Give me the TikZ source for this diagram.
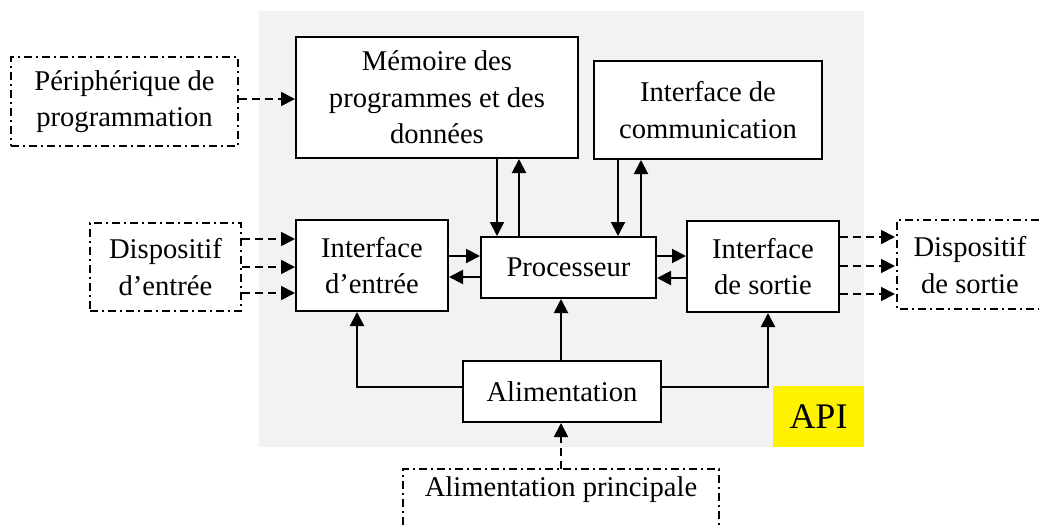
\documentclass[tikz,border=0pt]{standalone}
\usepackage{fontspec}
\setmainfont{Liberation Serif}
\usetikzlibrary{arrows.meta}
\begin{document}
\begin{tikzpicture}[x=0.5pt,y=-0.5pt,
  font=\fontsize{14.3pt}{18.3pt}\selectfont,
  box/.style={draw=black,line width=1pt,fill=white,inner sep=0pt,align=center},
  dbox/.style={draw=black,line width=0.8pt,dash pattern=on 4pt off 2pt on 1pt off 2pt,inner sep=0pt,align=center},
  dline/.style={line width=0.8pt,dash pattern=on 4pt off 2pt on 1pt off 2pt},
  arr/.style={line width=1pt,-{Triangle[length=7pt,width=7pt]}},
  darr/.style={line width=0.9pt,dash pattern=on 4pt off 2.5pt,-{Triangle[length=7pt,width=7pt]}},
  conn/.style={line width=1pt}]
\useasboundingbox (0,0) rectangle (1039,525);
\fill[fill={rgb,255:red,242;green,242;blue,242}] (259,11) rectangle (864,447);
% main boxes
\node[box,minimum width=141pt,minimum height=60.5pt] (mem) at (437,97.5) {Mémoire des\\programmes et des\\données};
\node[box,minimum width=114pt,minimum height=49pt] (com) at (708,110) {Interface de\\communication};
\node[box,minimum width=76pt,minimum height=45.5pt] (ie) at (372,265.5) {Interface\\d’entrée};
\node[box,minimum width=87.5pt,minimum height=30.5pt] (proc) at (568.5,267.5) {Processeur};
\node[box,minimum width=76pt,minimum height=45.5pt] (is) at (763,266.5) {Interface\\de sortie};
\node[box,minimum width=99pt,minimum height=30.5pt] (alim) at (562,391.5) {Alimentation};
\node[fill=yellow,inner sep=0pt,minimum width=45.5pt,minimum height=30.5pt,font=\fontsize{18pt}{20pt}\selectfont] (api) at (818.5,416.5) {API};
% external dashed boxes
\node[dbox,minimum width=113.5pt,minimum height=44.5pt] (per) at (124.5,101.5) {Périphérique de\\programmation};
\node[dbox,minimum width=75.5pt,minimum height=44pt] (de) at (165.5,267) {Dispositif\\d’entrée};
\node[align=center,inner sep=0pt] (ds) at (970,265) {Dispositif\\de sortie};
\node[inner sep=0pt] (ap) at (561,490) {Alimentation principale};
% partial borders
\coordinate (ds1) at (1039,220); \coordinate (ds2) at (897,220);
\coordinate (ds3) at (897,309); \coordinate (ds4) at (1039,309);
\draw[dline] (ds1) -- (ds2) -- (ds3) -- (ds4);
\coordinate (ap1) at (403,525); \coordinate (ap2) at (403,469);
\coordinate (ap3) at (719,469); \coordinate (ap4) at (719,525);
\draw[dline] (ap1) -- (ap2) -- (ap3) -- (ap4);
% x / y helpers
\coordinate (x497) at (497,0); \coordinate (x519) at (519,0);
\coordinate (x618) at (618,0); \coordinate (x641) at (641,0);
\coordinate (x561) at (561,0); \coordinate (x357) at (357,0);
\coordinate (x768) at (768,0); \coordinate (x895) at (895,0);
\coordinate (y99) at (0,99);
\coordinate (y239) at (0,239); \coordinate (y267) at (0,267); \coordinate (y293) at (0,293);
\coordinate (y237) at (0,237); \coordinate (y266) at (0,266); \coordinate (y294) at (0,294);
\coordinate (y256) at (0,256); \coordinate (y277) at (0,277); \coordinate (y278) at (0,278);
\coordinate (y387) at (0,387);
% memory <-> processor
\draw[arr] (x497 |- mem.south) -- (x497 |- proc.north);
\draw[arr] (x519 |- proc.north) -- (x519 |- mem.south);
% comm <-> processor
\draw[arr] (x618 |- com.south) -- (x618 |- proc.north);
\draw[arr] (x641 |- proc.north) -- (x641 |- com.south);
% entree <-> processor
\draw[arr] (ie.east |- y256) -- (proc.west |- y256);
\draw[arr] (proc.west |- y277) -- (ie.east |- y277);
% processor <-> sortie
\draw[arr] (proc.east |- y256) -- (is.west |- y256);
\draw[arr] (is.west |- y278) -- (proc.east |- y278);
% alimentation
\draw[arr] (alim.west |- y387) -| (x357 |- ie.south);
\draw[arr] (alim.east |- y387) -| (x768 |- is.south);
\draw[arr] (x561 |- alim.north) -- (x561 |- proc.south);
\draw[darr] (x561 |- ap2) -- (x561 |- alim.south);
% external dashed arrows
\draw[darr] (per.east |- y99) -- (mem.west |- y99);
\draw[darr] (de.east |- y239) -- (ie.west |- y239);
\draw[darr] (de.east |- y267) -- (ie.west |- y267);
\draw[darr] (de.east |- y293) -- (ie.west |- y293);
\draw[darr] (is.east |- y237) -- (x895 |- y237);
\draw[darr] (is.east |- y266) -- (x895 |- y266);
\draw[darr] (is.east |- y294) -- (x895 |- y294);
\end{tikzpicture}
\end{document}
